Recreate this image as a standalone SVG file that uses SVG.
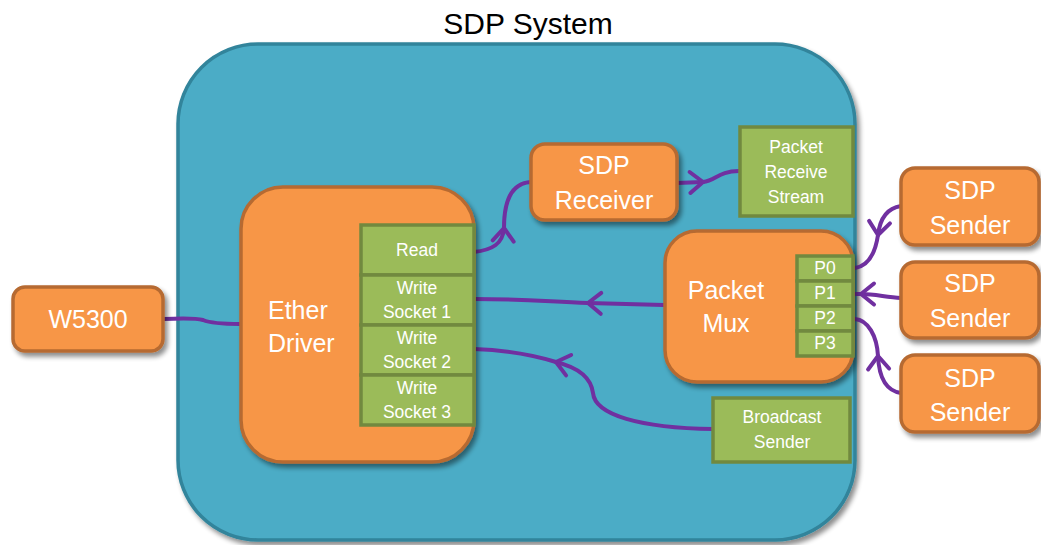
<svg xmlns="http://www.w3.org/2000/svg" width="1041" height="545" viewBox="0 0 1041 545">
<defs>
<filter id="sh" x="-20%" y="-20%" width="150%" height="150%">
<feGaussianBlur in="SourceAlpha" stdDeviation="2.5"/>
<feOffset dx="3" dy="4" result="b"/>
<feComponentTransfer><feFuncA type="linear" slope="0.45"/></feComponentTransfer>
<feMerge><feMergeNode/><feMergeNode in="SourceGraphic"/></feMerge>
</filter>
<marker id="chev" markerUnits="userSpaceOnUse" markerWidth="26" markerHeight="26" viewBox="0 0 26 26" refX="17" refY="13" orient="auto" overflow="visible">
<path d="M4,2.5 L17,13 L4,23.5" fill="none" stroke="#7030A0" stroke-width="4" stroke-linecap="round" stroke-linejoin="round"/>
</marker>
</defs>
<style>
.org{fill:#F79646;stroke:#B66A30;stroke-width:3.5;filter:url(#sh)}
.grn{fill:#9BBB59;stroke:#71893F;stroke-width:3.5}
.cont{fill:#4BACC6;stroke:#31849B;stroke-width:3.5;filter:url(#sh)}
.conn{fill:none;stroke:#7030A0;stroke-width:4;stroke-linecap:round}
.big{font-family:"Liberation Sans",Arial,sans-serif;font-size:25px;fill:#FFFFFF;text-anchor:middle}
.sm{font-family:"Liberation Sans",Arial,sans-serif;font-size:17.5px;fill:#FFFFFF;text-anchor:middle}
.title{font-family:"Liberation Sans",Arial,sans-serif;font-size:30px;fill:#000000;text-anchor:middle}
</style>
<rect width="1041" height="545" fill="#FFFFFF"/>
<text class="title" x="528" y="34">SDP System</text>
<g id="sdp-system">
<rect class="cont" x="178" y="44" width="677" height="496" rx="80" ry="80"/>
</g>
<g id="connectors">
<path class="conn" d="M163,319 C185,318 196,318 203,320 C210,323 220,324 240,324"/>
<path class="conn" d="M474,252 C492,250 503,244 504,228" marker-end="url(#chev)"/>
<path class="conn" d="M504,228 C504,200 512,183 531,182"/>
<path class="conn" d="M677,183 L703,182" marker-end="url(#chev)"/>
<path class="conn" d="M703,182 C716,181 718,171 739,171"/>
<path class="conn" d="M664,305 L588,303" marker-end="url(#chev)"/>
<path class="conn" d="M588,303 C540,301 520,299 474,299"/>
<path class="conn" d="M713,429 C640,428 595,415 593,393 C591,378 580,368 556,362" marker-end="url(#chev)"/>
<path class="conn" d="M556,362 C530,354 505,350 474,349"/>
<path class="conn" d="M901,206 C888,208 880,218 878,235" marker-end="url(#chev)"/>
<path class="conn" d="M878,235 C875,255 868,266 855,268"/>
<path class="conn" d="M901,298 C885,297 875,294 861,294" marker-end="url(#chev)"/>
<path class="conn" d="M861,294 L855,294"/>
<path class="conn" d="M901,393 C887,391 879,378 878,356" marker-end="url(#chev)"/>
<path class="conn" d="M878,356 C877,336 868,320 855,319"/>
</g>
<g id="w5300">
<rect class="org" x="13" y="287" width="150" height="64" rx="12" ry="12"/>
<text class="big" x="88" y="328">W5300</text>
</g>
<g id="ether-driver">
<rect class="org" x="241" y="187" width="233" height="275" rx="42" ry="42"/>
<text class="big" x="268" y="319" style="text-anchor:start">Ether</text>
<text class="big" x="268" y="352" style="text-anchor:start">Driver</text>
</g>
<g id="read">
<rect class="grn" x="361" y="225" width="113" height="50"/>
<text class="sm" x="417" y="256">Read</text>
</g>
<g id="write-socket-1">
<rect class="grn" x="361" y="275" width="113" height="50"/>
<text class="sm" x="417" y="294">Write</text>
<text class="sm" x="417" y="318">Socket 1</text>
</g>
<g id="write-socket-2">
<rect class="grn" x="361" y="325" width="113" height="50"/>
<text class="sm" x="417" y="344">Write</text>
<text class="sm" x="417" y="368">Socket 2</text>
</g>
<g id="write-socket-3">
<rect class="grn" x="361" y="375" width="113" height="50"/>
<text class="sm" x="417" y="394">Write</text>
<text class="sm" x="417" y="418">Socket 3</text>
</g>
<g id="sdp-receiver">
<rect class="org" x="531" y="144" width="146" height="76" rx="14" ry="14"/>
<text class="big" x="604" y="174">SDP</text>
<text class="big" x="604" y="209">Receiver</text>
</g>
<g id="packet-receive-stream">
<rect class="grn" x="740" y="127" width="113" height="89"/>
<text class="sm" x="796" y="153">Packet</text>
<text class="sm" x="796" y="178">Receive</text>
<text class="sm" x="796" y="203">Stream</text>
</g>
<g id="packet-mux">
<rect class="org" x="665" y="231" width="188" height="151" rx="32" ry="32"/>
<text class="big" x="726" y="299">Packet</text>
<text class="big" x="726" y="332">Mux</text>
</g>
<g id="p0">
<rect class="grn" x="797" y="256" width="56" height="25"/>
<text class="sm" x="825" y="274">P0</text>
</g>
<g id="p1">
<rect class="grn" x="797" y="281" width="56" height="25"/>
<text class="sm" x="825" y="299">P1</text>
</g>
<g id="p2">
<rect class="grn" x="797" y="306" width="56" height="25"/>
<text class="sm" x="825" y="324">P2</text>
</g>
<g id="p3">
<rect class="grn" x="797" y="331" width="56" height="25"/>
<text class="sm" x="825" y="349">P3</text>
</g>
<g id="broadcast-sender">
<rect class="grn" x="713" y="398" width="137" height="64"/>
<text class="sm" x="782" y="423">Broadcast</text>
<text class="sm" x="782" y="448">Sender</text>
</g>
<g id="sdp-sender-1">
<rect class="org" x="901" y="168" width="138" height="77" rx="14" ry="14"/>
<text class="big" x="970" y="199">SDP</text>
<text class="big" x="970" y="234">Sender</text>
</g>
<g id="sdp-sender-2">
<rect class="org" x="901" y="262" width="138" height="76" rx="14" ry="14"/>
<text class="big" x="970" y="292">SDP</text>
<text class="big" x="970" y="327">Sender</text>
</g>
<g id="sdp-sender-3">
<rect class="org" x="901" y="355" width="138" height="77" rx="14" ry="14"/>
<text class="big" x="970" y="387">SDP</text>
<text class="big" x="970" y="421">Sender</text>
</g>
</svg>
